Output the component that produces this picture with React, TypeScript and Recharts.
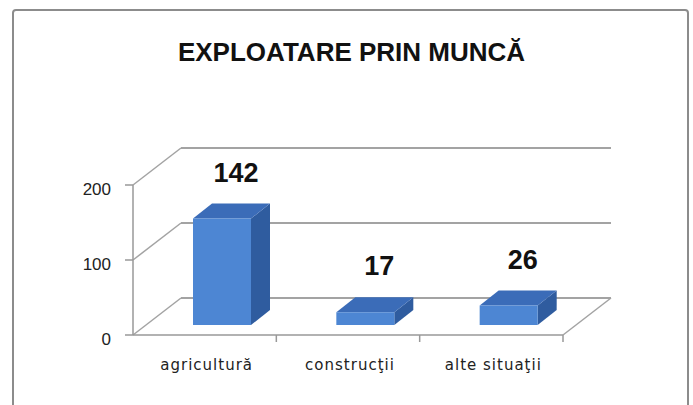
import { BarChart, Bar, XAxis, YAxis, CartesianGrid } from 'recharts'

const categories = ['agricultură', 'construcţii', 'alte situaţii']
const values = [142, 17, 26]
const yTicks = [0, 100, 200]

const data = categories.map((name, i) => ({ name, value: values[i] }))

// depth of the back wall and of the bars
const WALL_X = 48
const WALL_Y = -37
const BAR_OFF_X = 17
const BAR_OFF_Y = -10
const BAR_DX = 19
const BAR_DY = -15
const PLOT_W = 430
const GRID = '#a3a3a3'

const Bar3D = (props: any) => {
  const { x, y, width, height } = props
  if (x == null || height == null) return null
  const fx = x + BAR_OFF_X
  const top = y + BAR_OFF_Y
  const bot = y + height + BAR_OFF_Y
  return (
    <g>
      <polygon
        points={`${fx + width},${top} ${fx + width + BAR_DX},${top + BAR_DY} ${fx + width + BAR_DX},${bot + BAR_DY} ${fx + width},${bot}`}
        fill="#2f5c9f"
      />
      <polygon
        points={`${fx},${top} ${fx + width},${top} ${fx + width + BAR_DX},${top + BAR_DY} ${fx + BAR_DX},${top + BAR_DY}`}
        fill="#3b6cb8"
      />
      <rect x={fx} y={top} width={width} height={bot - top} fill="#4d86d3" />
    </g>
  )
}

const ValueLabel = (props: any) => {
  const { x, y, width, value } = props
  return (
    <text
      x={x + BAR_OFF_X + width / 2 + 14}
      y={y + BAR_OFF_Y - 46}
      textAnchor="middle"
      dominantBaseline="central"
      fontFamily="Liberation Sans"
      fontWeight="bold"
      fontSize={27}
      fill="#111"
    >
      {value}
    </text>
  )
}

// one horizontal gridline, pushed back onto the wall, with its side diagonal
const GridLine = (props: any) => {
  const { x1, y1, x2, y2, index } = props
  const isFloor = y1 >= 330
  return (
    <g key={`grid-${index}`}>
      <line x1={x1 + WALL_X} y1={y1 + WALL_Y} x2={x2 + WALL_X} y2={y2 + WALL_Y} stroke={GRID} strokeWidth={2} />
      <line x1={x1} y1={y1} x2={x1 + WALL_X} y2={y1 + WALL_Y} stroke={GRID} strokeWidth={1.5} />
      {isFloor && <line x1={x2} y1={y2} x2={x2 + WALL_X} y2={y2 + WALL_Y} stroke={GRID} strokeWidth={1.5} />}
    </g>
  )
}

const CategoryTick = (props: any) => {
  const { x, y, payload } = props
  const half = PLOT_W / categories.length / 2
  return (
    <g>
      <line x1={x + half} y1={y} x2={x + half} y2={y + 7} stroke="#999" strokeWidth={1.5} />
      <text
        x={x + 2}
        y={y + 30}
        textAnchor="middle"
        dominantBaseline="central"
        fontFamily="DejaVu Sans"
        fontSize={15}
        letterSpacing={1}
        fill="#222"
      >
        {payload.value}
      </text>
    </g>
  )
}

export default function App() {
  return (
    <div style={{ position: 'absolute', left: 0, top: 0, width: 693, height: 405, overflow: 'hidden', background: '#fff' }}>
      <div
        style={{
          position: 'absolute',
          left: 12,
          top: 9,
          width: 673,
          height: 420,
          border: '2px solid #8c8c8c',
          borderRadius: 4,
        }}
      />
      <div
        style={{
          position: 'absolute',
          left: 0,
          top: 37,
          width: 703,
          textAlign: 'center',
          fontFamily: 'Liberation Sans',
          fontWeight: 'bold',
          fontSize: 26,
          lineHeight: '30px',
          color: '#111',
        }}
      >
        EXPLOATARE PRIN MUNCĂ
      </div>
      <div style={{ position: 'absolute', left: 0, top: 0 }}>
        <BarChart width={693} height={405} data={data} margin={{ top: 185, right: 130, left: 73, bottom: 40 }}>
          <CartesianGrid vertical={false} horizontal={GridLine} />
          <XAxis
            dataKey="name"
            height={30}
            interval={0}
            tickSize={0}
            tickMargin={0}
            tickLine={false}
            axisLine={{ stroke: '#999', strokeWidth: 1.5 }}
            tick={CategoryTick}
          />
          <YAxis
            width={60}
            domain={[0, 200]}
            ticks={yTicks}
            tickSize={8}
            tickMargin={14}
            axisLine={{ stroke: '#999', strokeWidth: 1.5 }}
            tickLine={{ stroke: '#999', strokeWidth: 1.5 }}
            tick={{ fontFamily: 'Liberation Sans', fontSize: 17, fill: '#222', dy: 4 }}
          />
          <Bar dataKey="value" barSize={58} shape={Bar3D} label={ValueLabel} isAnimationActive={false} />
        </BarChart>
      </div>
    </div>
  )
}
